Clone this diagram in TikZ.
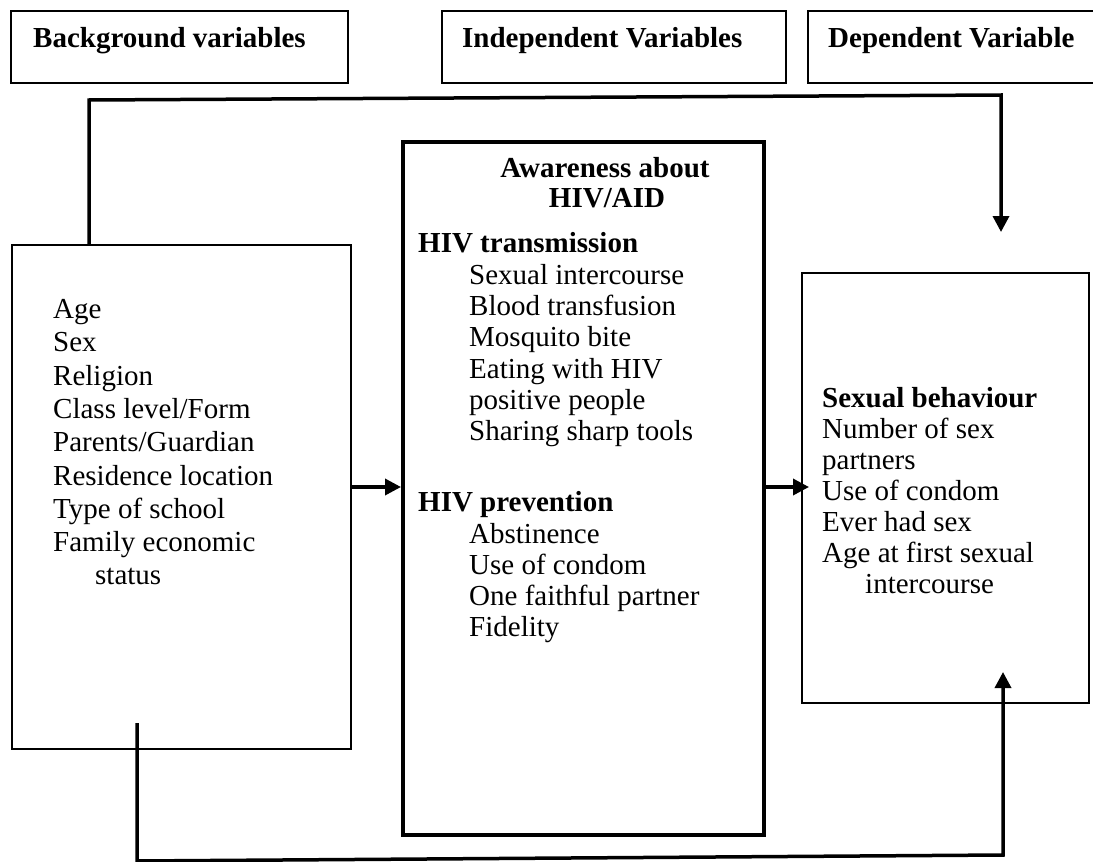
\documentclass[tikz,border=0pt]{standalone}
\usepackage{fontspec}
\setmainfont{Liberation Serif}
\usetikzlibrary{arrows.meta}

\tikzset{
  thinbox/.style={draw, line width=1.6pt, inner sep=0pt, anchor=north west},
  thickbox/.style={draw, line width=4pt, inner sep=0pt, anchor=north west},
  item/.style={anchor=base west, inner sep=0pt, font=\fontsize{29}{33}\selectfont},
  head/.style={item, font=\fontsize{29}{33}\selectfont\bfseries},
  title/.style={anchor=base, inner sep=0pt, font=\fontsize{29}{33}\selectfont\bfseries},
  link/.style={line width=3.5pt, -{Triangle[length=16pt,width=16pt]}},
}

\begin{document}
\begin{tikzpicture}[line join=miter, x=1pt, y=-1pt]
                \useasboundingbox (0,0) rectangle (1093,862);

                \node[thinbox, minimum width=337pt, minimum height=72pt] (bghead) at (10,10) {};
                \node[thinbox, minimum width=344pt, minimum height=72pt] (indhead) at (441,10) {};
                \node[thinbox, minimum width=290pt, minimum height=72pt] (dephead) at (807,10) {};
                \node[head] (bgtitle) at (33,47) {Background variables};
                \node[head] (indtitle) at (462,47) {Independent Variables};
                \node[head] (deptitle) at (828,47) {Dependent Variable};

                \node[thinbox, minimum width=339pt, minimum height=504pt] (bgbox) at (11,244) {};
                \node[thickbox, minimum width=361pt, minimum height=693pt] (indbox) at (401,140) {};
                \node[thinbox, minimum width=287pt, minimum height=430pt] (depbox) at (801,272) {};

                \node[item] (age) at (53,318) {Age};
                \node[item] (sex) at (53,351) {Sex};
                \node[item] (rel) at (53,385) {Religion};
                \node[item] (cls) at (53,418) {Class level/Form};
                \node[item] (par) at (53,451) {Parents/Guardian};
                \node[item] (res) at (53,485) {Residence location};
                \node[item] (typ) at (53,518) {Type of school};
                \node[item] (fam) at (53,551) {Family economic};
                \node[item] (sta) at (95,584) {status};

                \node[title] (aware) at (605,177) {Awareness about};
                \node[title] (aids) at (607,207) {HIV/AID};
                \node[head] (trans) at (418,252) {HIV transmission};
                \node[item] (tr1) at (469,284) {Sexual intercourse};
                \node[item] (tr2) at (469,315) {Blood transfusion};
                \node[item] (tr3) at (469,346) {Mosquito bite};
                \node[item] (tr4) at (469,378) {Eating with HIV};
                \node[item] (tr5) at (469,409) {positive people};
                \node[item] (tr6) at (469,440) {Sharing sharp tools};
                \node[head] (prev) at (418,511) {HIV prevention};
                \node[item] (pr1) at (469,543) {Abstinence};
                \node[item] (pr2) at (469,574) {Use of condom};
                \node[item] (pr3) at (469,605) {One faithful partner};
                \node[item] (pr4) at (469,636) {Fidelity};

                \node[head] (sexb) at (822,407) {Sexual behaviour};
                \node[item] (sb1) at (822,438) {Number of sex};
                \node[item] (sb2) at (822,469) {partners};
                \node[item] (sb3) at (822,500) {Use of condom};
                \node[item] (sb4) at (822,531) {Ever had sex};
                \node[item] (sb5) at (822,562) {Age at first sexual};
                \node[item] (sb6) at (865,593) {intercourse};

                \coordinate (topleft) at (89,100);
                \coordinate (topright) at (1001,95);
                \coordinate (toptip) at (1001,232);
                \coordinate (botstart) at (137,723);
                \coordinate (botleft) at (137,861);
                \coordinate (botright) at (1003,855);
                \coordinate (bottip) at (1003,672);

                \draw[link] (bgbox.north west -| topleft) -- (topleft) -- (topright) -- (toptip);
                \draw[link] (botstart) -- (botleft) -- (botright) -- (bottip);
                \draw[link] (bgbox.east |- res.base) ++(0,2) -- (indbox.west |- 0,487);
                \draw[link] (indbox.east |- 0,487) -- (809,487);

\end{tikzpicture}
\end{document}
